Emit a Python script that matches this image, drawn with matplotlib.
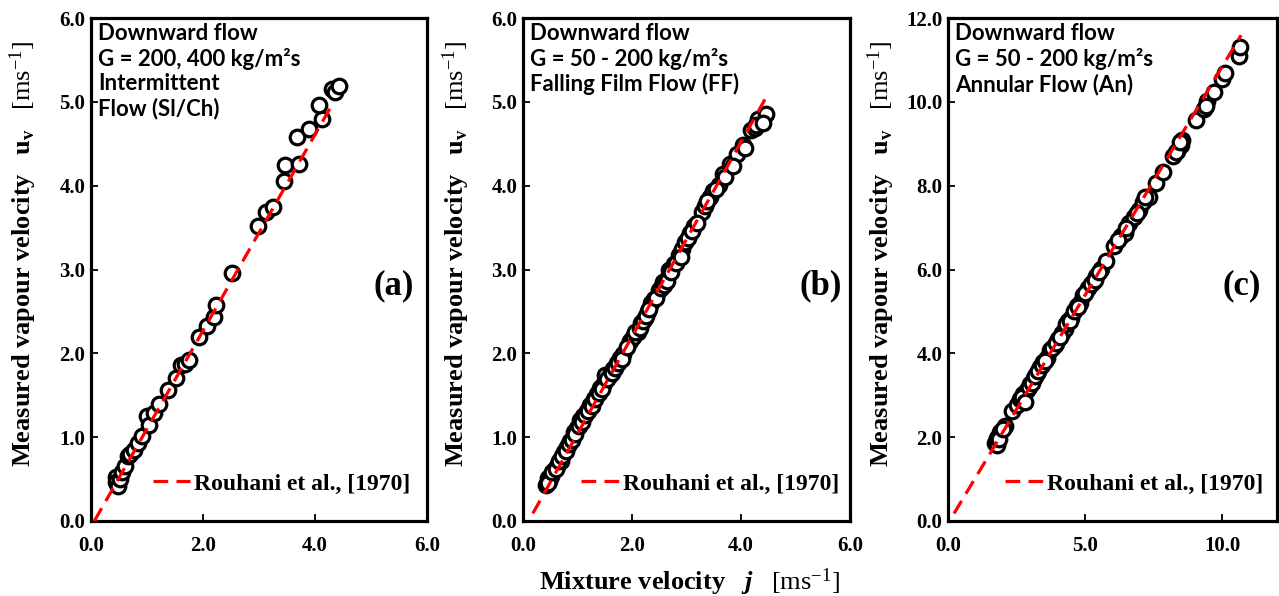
import matplotlib
matplotlib.use("Agg")
import matplotlib.pyplot as plt
from matplotlib.ticker import FormatStrFormatter

plt.rcParams['mathtext.fontset'] = 'custom'
plt.rcParams['mathtext.rm'] = 'Liberation Serif'
plt.rcParams['mathtext.bf'] = 'Liberation Serif:bold'
plt.rcParams['mathtext.it'] = 'Liberation Serif:italic:bold'

SERIF = 'Liberation Serif'
SANS = 'Lato'

# (a) intermittent flow, G = 200, 400 kg/m2s
a_j = [0.44, 0.45, 0.48, 0.51, 0.56, 0.60, 0.66, 0.70, 0.76, 0.84, 0.91, 1.00, 1.04,
       1.12, 1.21, 1.38, 1.51, 1.60, 1.68, 1.75, 1.93, 2.08, 2.20, 2.23, 2.51, 2.98,
       3.13, 3.25, 3.44, 3.46, 3.71, 3.68, 3.89, 4.13, 4.07, 4.31, 4.36, 4.43]
a_uv = [0.52, 0.46, 0.42, 0.50, 0.58, 0.66, 0.78, 0.80, 0.85, 0.93, 1.01, 1.25, 1.15,
        1.29, 1.39, 1.56, 1.70, 1.86, 1.87, 1.92, 2.20, 2.33, 2.43, 2.58, 2.96, 3.52,
        3.69, 3.75, 4.05, 4.25, 4.26, 4.58, 4.67, 4.79, 4.96, 5.15, 5.12, 5.19]
a_line_j = [0.06, 4.30]
a_line_uv = [0.0, 4.96]

# (b) falling film flow, G = 50 - 200 kg/m2s
b_j = [0.42, 0.45, 0.48, 0.51, 0.57, 0.63, 0.69, 0.75, 0.81, 0.87, 0.93, 0.99, 1.05,
       1.11, 1.17, 1.23, 1.30, 1.36, 1.42, 1.48, 1.51, 1.60, 1.66, 1.72, 1.78, 1.84,
       1.96, 2.02, 2.11, 2.17, 2.23, 2.29, 2.35, 2.41, 2.50, 2.56, 2.62, 2.68, 2.77,
       2.86, 2.92, 2.98, 3.07, 3.13, 3.28, 3.34, 3.43, 3.49, 3.60, 3.67, 3.80, 3.92,
       4.04, 4.19, 4.25, 4.31, 4.46,
       0.46, 0.53, 0.60, 0.66, 0.72, 0.78, 0.84, 0.90, 0.96, 1.02, 1.08, 1.14, 1.20,
       1.27, 1.33, 1.39, 1.45, 1.55, 1.63, 1.69, 1.75, 1.81, 1.90, 2.05, 2.14, 2.20,
       2.26, 2.32, 2.44, 2.53, 2.59, 2.65, 2.72, 2.80, 2.89, 3.02, 3.10, 3.20, 3.38,
       3.55, 3.70, 3.85, 4.08, 4.28, 4.40]
b_uv = [0.43, 0.51, 0.48, 0.54, 0.61, 0.66, 0.72, 0.82, 0.88, 0.95, 1.06, 1.11, 1.20,
        1.25, 1.31, 1.38, 1.45, 1.52, 1.59, 1.65, 1.74, 1.74, 1.81, 1.88, 1.95, 1.99,
        2.15, 2.20, 2.26, 2.36, 2.42, 2.51, 2.60, 2.65, 2.76, 2.85, 2.88, 2.99, 3.06,
        3.17, 3.24, 3.33, 3.44, 3.52, 3.69, 3.76, 3.87, 3.94, 4.01, 4.14, 4.26, 4.38,
        4.48, 4.66, 4.69, 4.79, 4.86,
        0.45, 0.58, 0.62, 0.71, 0.78, 0.83, 0.92, 0.97, 1.04, 1.13, 1.18, 1.26, 1.31,
        1.37, 1.46, 1.53, 1.58, 1.69, 1.77, 1.83, 1.89, 1.93, 2.07, 2.25, 2.30, 2.38,
        2.45, 2.53, 2.66, 2.78, 2.82, 2.86, 2.97, 3.08, 3.15, 3.38, 3.46, 3.55, 3.82,
        3.96, 4.10, 4.23, 4.45, 4.72, 4.75]
b_line_j = [0.18, 4.44]
b_line_uv = [0.09, 5.03]

# (c) annular flow, G = 50 - 200 kg/m2s
c_j = [1.73, 1.79, 1.79, 1.91, 2.09, 2.33, 2.51, 2.63, 2.75, 2.87, 3.00, 3.12, 3.24,
       3.36, 3.48, 3.60, 3.72, 3.90, 4.02, 4.14, 4.26, 4.38, 4.50, 4.69, 4.81, 4.93,
       5.11, 5.29, 5.41, 5.59, 5.77, 6.07, 6.32, 6.44, 6.62, 6.80, 6.98, 7.10, 7.34,
       7.58, 7.83, 8.19, 8.37, 8.49, 8.55, 9.03, 9.34, 9.46, 9.70, 10.00, 10.12,
       10.60, 10.66,
       1.85, 2.00, 2.70, 2.80, 2.95, 3.05, 3.18, 3.30, 3.42, 3.55, 3.80, 3.95, 4.10,
       4.30, 4.45, 4.60, 4.75, 5.00, 5.20, 5.35, 5.50, 6.20, 6.50, 6.90, 7.20, 8.30,
       8.45, 9.40]
c_uv = [1.86, 1.81, 1.99, 2.13, 2.26, 2.63, 2.76, 2.90, 3.03, 3.13, 3.26, 3.40, 3.53,
        3.67, 3.80, 3.89, 4.08, 4.21, 4.35, 4.48, 4.57, 4.76, 4.85, 5.12, 5.21, 5.39,
        5.57, 5.71, 5.84, 6.02, 6.20, 6.57, 6.79, 6.88, 7.11, 7.25, 7.43, 7.61, 7.74,
        8.06, 8.33, 8.70, 8.83, 8.97, 9.10, 9.57, 9.83, 10.01, 10.24, 10.55, 10.69,
        11.10, 11.30,
        1.95, 2.20, 2.95, 2.85, 3.20, 3.30, 3.45, 3.58, 3.72, 3.82, 4.12, 4.25, 4.40,
        4.70, 4.78, 5.00, 5.10, 5.45, 5.65, 5.75, 5.95, 6.70, 7.00, 7.35, 7.72, 8.80,
        9.05, 9.90]
c_line_j = [0.22, 10.69]
c_line_uv = [0.18, 11.59]

a_text = "Downward flow\nG = 200, 400 kg/m\u00b2s\nIntermittent\nFlow (Sl/Ch)"
b_text = "Downward flow\nG = 50 - 200 kg/m\u00b2s\nFalling Film Flow (FF)"
c_text = "Downward flow\nG = 50 - 200 kg/m\u00b2s\nAnnular Flow (An)"

YLABEL = r"Measured vapour velocity   $\mathbf{u_v}$   $\mathrm{[ms^{-1}]}$"
XLABEL = r"Mixture velocity   $j$   $\mathrm{[ms^{-1}]}$"


def draw_panel(ax, j, uv, lj, luv, xmax, ymax, xticks, yticks, info, tag, leg_x, tag_x):
    ax.plot(j, uv, 'o', ms=10.5, mfc='white', mec='black', mew=2.3, ls='none', zorder=2)
    ax.plot(lj, luv, color='red', lw=2.3, dashes=(4.6, 2.6), zorder=3,
            label='Rouhani et al., [1970]')
    ax.set_xlim(0, xmax)
    ax.set_ylim(0, ymax)
    ax.set_xticks(xticks)
    ax.set_yticks(yticks)
    ax.xaxis.set_major_formatter(FormatStrFormatter('%.1f'))
    ax.yaxis.set_major_formatter(FormatStrFormatter('%.1f'))
    ax.tick_params(direction='in', length=5, width=1.3, labelsize=15)
    ax.tick_params(axis='x', pad=11)
    ax.tick_params(axis='y', pad=4)
    for lab in ax.get_xticklabels() + ax.get_yticklabels():
        lab.set_fontfamily(SERIF)
        lab.set_fontweight('bold')
    for sp in ax.spines.values():
        sp.set_linewidth(2.3)
    ax.set_ylabel(YLABEL, fontsize=19, fontfamily=SERIF, fontweight='bold')
    ax.yaxis.set_label_coords(-0.155, 0.53)
    ax.text(0.022, 0.99, info, transform=ax.transAxes, ha='left', va='top',
            fontsize=16, fontfamily=SANS, fontweight='bold', linespacing=1.2)
    ax.text(tag_x, 0.468, tag, transform=ax.transAxes, ha='right', va='center',
            fontsize=25, fontfamily=SERIF, fontweight='bold')
    ax.legend(loc='center right', bbox_to_anchor=(leg_x, 0.074), frameon=False,
              borderpad=0, borderaxespad=0, handlelength=1.6, handletextpad=0.15,
              prop={'family': SERIF, 'weight': 'bold', 'size': 17})


fig = plt.figure(figsize=(12.79, 5.96), dpi=100)
ax_a = fig.add_axes([91 / 1279, 75 / 596, 336 / 1279, 503 / 596])
ax_b = fig.add_axes([523 / 1279, 75 / 596, 327 / 1279, 503 / 596])
ax_c = fig.add_axes([948 / 1279, 75 / 596, 329 / 1279, 503 / 596])

draw_panel(ax_a, a_j, a_uv, a_line_j, a_line_uv, 6.0, 6.0, [0, 2, 4, 6],
           [0, 1, 2, 3, 4, 5, 6], a_text, '(a)', 0.95, 0.96)
draw_panel(ax_b, b_j, b_uv, b_line_j, b_line_uv, 6.0, 6.0, [0, 2, 4, 6],
           [0, 1, 2, 3, 4, 5, 6], b_text, '(b)', 0.966, 0.975)
draw_panel(ax_c, c_j, c_uv, c_line_j, c_line_uv, 12.0, 12.0, [0, 5, 10],
           [0, 2, 4, 6, 8, 10, 12], c_text, '(c)', 0.957, 0.95)

ax_b.set_xlabel(XLABEL, fontsize=19, fontfamily=SERIF, fontweight='bold')
ax_b.xaxis.set_label_coords(0.51, -0.09)

fig.savefig("out.png", dpi=100)
